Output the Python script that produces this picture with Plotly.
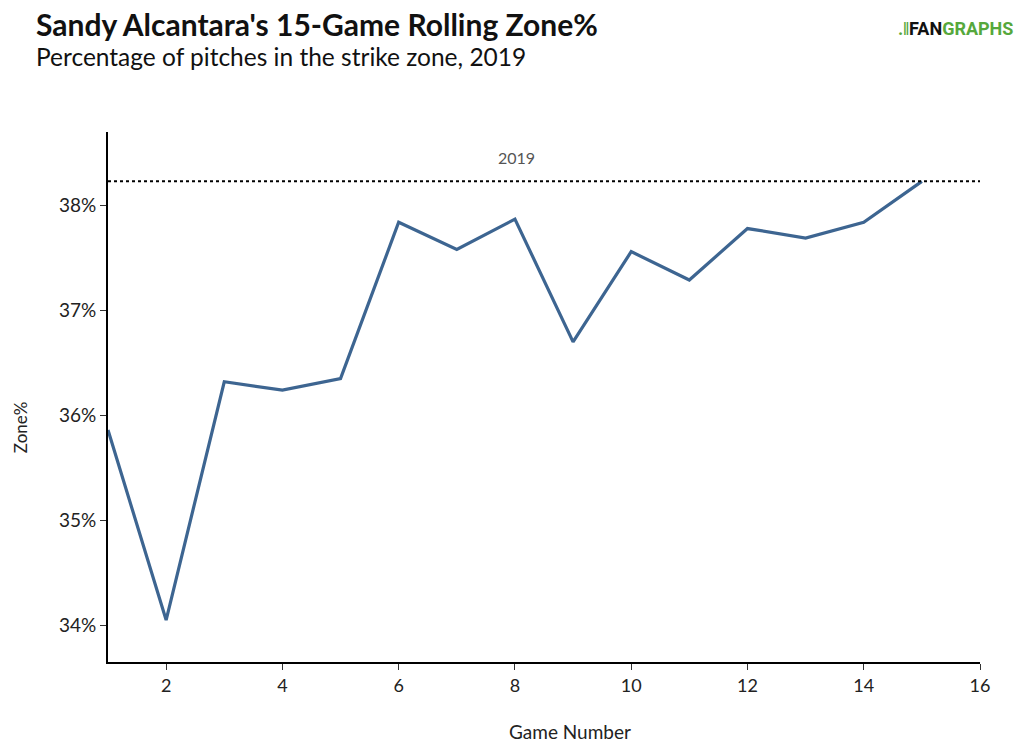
import plotly.graph_objects as go

games = list(range(1, 16))
zone_pct = [35.86, 34.05, 36.32, 36.24, 36.35, 37.84, 37.58, 37.87, 36.70, 37.56, 37.29, 37.78, 37.69, 37.84, 38.23]
season_avg = 38.23
season_label = "2019"

fig = go.Figure()
fig.add_trace(go.Scatter(x=games, y=zone_pct, mode="lines",
                         line=dict(color="#3d6591", width=3.2), showlegend=False))
fig.add_shape(type="line", xref="x", yref="y", x0=1, x1=16, y0=season_avg, y1=season_avg,
              line=dict(color="black", width=2, dash="dot"))
fig.add_annotation(x=8.02, y=season_avg, xref="x", yref="y", text=season_label, showarrow=False,
                   yshift=24, font=dict(family="Lato", size=16, color="#555555"))

fig.update_layout(
    width=1022, height=745,
    paper_bgcolor="white", plot_bgcolor="white",
    margin=dict(l=108, r=42, t=132, b=83),
    xaxis=dict(range=[1, 16], tickvals=[2, 4, 6, 8, 10, 12, 14, 16], showgrid=False, zeroline=False,
               showline=True, linecolor="black", linewidth=2, ticks="outside", ticklen=6,
               tickcolor="#333", tickfont=dict(family="Lato", size=18, color="#222"), automargin=False),
    yaxis=dict(range=[33.65, 38.7], tickvals=[34, 35, 36, 37, 38],
               ticktext=["34%", "35%", "36%", "37%", "38%"], showgrid=False, zeroline=False,
               showline=True, linecolor="black", linewidth=2, ticks="outside", ticklen=6,
               tickcolor="#333", tickfont=dict(family="Lato", size=19, color="#222"), automargin=False),
)

fig.add_annotation(xref="paper", yref="paper", x=0.53, y=-0.132, xanchor="center", yanchor="middle",
                   text="Game Number", showarrow=False, font=dict(family="Lato", size=19, color="#222"))
fig.add_annotation(xref="paper", yref="paper", x=-0.101, y=0.443, xanchor="center", yanchor="middle",
                   text="Zone%", textangle=-90, showarrow=False, font=dict(family="Lato", size=17, color="#222"))

fig.add_annotation(xref="paper", yref="paper", x=-0.0848, y=1.0, xanchor="left", yanchor="top",
                   yshift=132 - 4, text="<b>Sandy Alcantara's 15-Game Rolling Zone%</b>", showarrow=False,
                   font=dict(family="Lato", size=30, color="#111"))
fig.add_annotation(xref="paper", yref="paper", x=-0.0848, y=1.0, xanchor="left", yanchor="top",
                   yshift=132 - 40, text="Percentage of pitches in the strike zone, 2019", showarrow=False,
                   font=dict(family="Lato", size=24.5, color="#111"))
fig.add_annotation(xref="paper", yref="paper", x=1.04, y=1.0, xanchor="right", yanchor="top",
                   yshift=132 - 16,
                   text="<b><span style='color:#56a83c'>.‖</span><span style='color:#111'>FAN</span><span style='color:#56a83c'>GRAPHS</span></b>",
                   showarrow=False, font=dict(family="Roboto", size=18))

fig.write_html("out.html")
